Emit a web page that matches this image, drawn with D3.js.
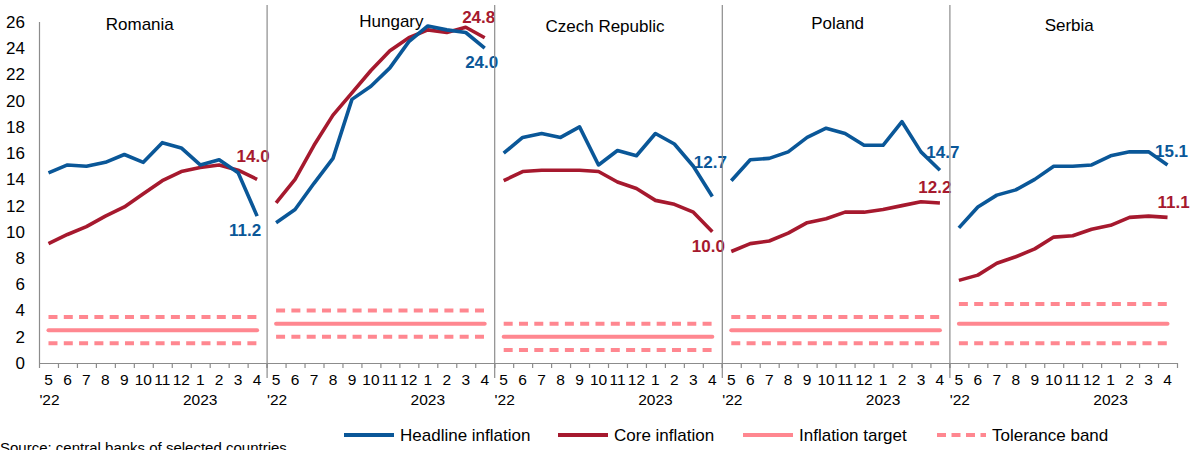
<!DOCTYPE html>
<html>
<head>
<meta charset="utf-8">
<script src="https://cdn.jsdelivr.net/npm/d3@7"></script>
<style>
  html, body { margin: 0; padding: 0; background: #fff; }
  svg { display: block; font-family: "Liberation Sans", Arial, sans-serif; }
</style>
</head>
<body>
<svg id="chart" width="1190" height="450"></svg>
<script>
// ---------- DATA ----------
const countries = ["Romania", "Hungary", "Czech Republic", "Poland", "Serbia"];
const months = ["5", "6", "7", "8", "9", "10", "11", "12", "1", "2", "3", "4"];
const yTicks = [0, 2, 4, 6, 8, 10, 12, 14, 16, 18, 20, 22, 24, 26];

const romaniaHeadline = [14.5, 15.1, 15.0, 15.3, 15.9, 15.3, 16.8, 16.4, 15.1, 15.5, 14.5, 11.2];
const romaniaCore     = [9.1, 9.8, 10.4, 11.2, 11.9, 12.9, 13.9, 14.6, 14.9, 15.1, 14.7, 14.0];
const hungaryHeadline = [10.7, 11.7, 13.7, 15.6, 20.1, 21.1, 22.5, 24.5, 25.7, 25.4, 25.2, 24.0];
const hungaryCore     = [12.2, 14.0, 16.6, 18.9, 20.6, 22.3, 23.8, 24.8, 25.4, 25.2, 25.6, 24.8];
const czechHeadline   = [16.0, 17.2, 17.5, 17.2, 18.0, 15.1, 16.2, 15.8, 17.5, 16.7, 15.0, 12.7];
const czechCore       = [13.9, 14.6, 14.7, 14.7, 14.7, 14.6, 13.8, 13.3, 12.4, 12.1, 11.5, 10.0];
const polandHeadline  = [13.9, 15.5, 15.6, 16.1, 17.2, 17.9, 17.5, 16.6, 16.6, 18.4, 16.1, 14.7];
const polandCore      = [8.5, 9.1, 9.3, 9.9, 10.7, 11.0, 11.5, 11.5, 11.7, 12.0, 12.3, 12.2];
const serbiaHeadline  = [10.3, 11.9, 12.8, 13.2, 14.0, 15.0, 15.0, 15.1, 15.8, 16.1, 16.1, 15.1];
const serbiaCore      = [6.3, 6.7, 7.6, 8.1, 8.7, 9.6, 9.7, 10.2, 10.5, 11.1, 11.2, 11.1];

const targets       = [2.5, 3, 2, 2.5, 3];
const toleranceLow  = [1.5, 2, 1, 1.5, 1.5];
const toleranceHigh = [3.5, 4, 3, 3.5, 4.5];

const headlineSeries = [romaniaHeadline, hungaryHeadline, czechHeadline, polandHeadline, serbiaHeadline];
const coreSeries     = [romaniaCore, hungaryCore, czechCore, polandCore, serbiaCore];

const legendLabels = ["Headline inflation", "Core inflation", "Inflation target", "Tolerance band"];

// ---------- STYLE / LAYOUT ----------
const C_HEAD = "#0a5798";
const C_CORE = "#a6192e";
const C_TGT  = "#ff8790";
const C_AXIS = "#8c8c8c";

// title offsets relative to panel centre (dx, baseline y)
const titleLayout = [[-13, 30], [11, 27], [-3, 32], [2, 29], [6, 31]];
// end-label offsets relative to last point: [dx, dy]
const headLabelOff = [[-12, 20], [-3, 20], [-2, -28], [3, -12], [4, -8]];
const coreLabelOff = [[-4, -17], [-6, -15], [-4, 20], [-5, -10], [6, -9]];

const svg = d3.select("#chart");

const y = d3.scaleLinear().domain([0, 26]).range([363, 22]);
const xPanel = d3.scaleBand().domain(countries).range([39, 1177]);
const xMonth = d3.scaleBand().domain(d3.range(12)).range([0, xPanel.bandwidth()]);
const px = (ci, i) => xPanel(countries[ci]) + xMonth(i) + xMonth.bandwidth() / 2;

// ---------- AXES ----------
const yAxis = d3.axisLeft(y).tickValues(yTicks).tickSize(0).tickPadding(14);
const gy = svg.append("g").attr("transform", "translate(39,0)").call(yAxis);
gy.select(".domain").remove();
gy.selectAll("text").attr("font-size", 17).attr("fill", "#000")
  .style("font-family", "'Liberation Sans', Arial, sans-serif");

// left axis line
svg.append("line").attr("x1", 39.5).attr("x2", 39.5).attr("y1", y(26)).attr("y2", y(0))
  .attr("stroke", C_AXIS).attr("stroke-width", 1.2);
// x baseline
svg.append("line").attr("x1", 39).attr("x2", 1177).attr("y1", y(0) + 0.5).attr("y2", y(0) + 0.5)
  .attr("stroke", C_AXIS).attr("stroke-width", 1.2);

countries.forEach((c, ci) => {
  const x0 = xPanel(c);
  const g = svg.append("g").attr("transform", `translate(${x0},0)`);

  // tick marks at category boundaries
  const bounds = d3.range(13).map(i => i < 12 ? xMonth(i) : xPanel.bandwidth());
  g.selectAll("line.tick").data(bounds).join("line")
    .attr("x1", d => d + 0.5).attr("x2", d => d + 0.5)
    .attr("y1", y(0)).attr("y2", y(0) + 5)
    .attr("stroke", C_AXIS).attr("stroke-width", 1.2);

  // month labels via axis
  const ax = d3.axisBottom(xMonth).tickFormat(i => months[i]).tickSize(0).tickPadding(11);
  const ga = g.append("g").attr("transform", `translate(0,${y(0)})`).call(ax);
  ga.select(".domain").remove();
  ga.selectAll("text").attr("font-size", 15.5).attr("fill", "#000")
    .style("font-family", "'Liberation Sans', Arial, sans-serif");

  // year labels
  g.append("text").attr("x", xMonth(0) + xMonth.bandwidth() / 2 + 1).attr("y", 405)
    .attr("text-anchor", "middle").attr("font-size", 15.5).text("'22");
  g.append("text").attr("x", xMonth(8) + xMonth.bandwidth() / 2).attr("y", 405)
    .attr("text-anchor", "middle").attr("font-size", 15.5).text("2023");

  // separators
  if (ci > 0) {
    svg.append("line").attr("x1", x0 + 0.5).attr("x2", x0 + 0.5).attr("y1", 5).attr("y2", 378)
      .attr("stroke", C_AXIS).attr("stroke-width", 1.2);
  }

  // title
  svg.append("text").attr("x", x0 + xPanel.bandwidth() / 2 + titleLayout[ci][0]).attr("y", titleLayout[ci][1])
    .attr("text-anchor", "middle").attr("font-size", 17).attr("fill", "#000").text(c);

  // target and tolerance band
  const xa = px(ci, 0), xb = px(ci, 11);
  svg.append("line").attr("x1", xa).attr("x2", xb).attr("y1", y(targets[ci])).attr("y2", y(targets[ci]))
    .attr("stroke", C_TGT).attr("stroke-width", 4).attr("stroke-linecap", "round");
  [toleranceLow[ci], toleranceHigh[ci]].forEach(v => {
    svg.append("line").attr("x1", xa).attr("x2", xb + 2).attr("y1", y(v)).attr("y2", y(v))
      .attr("stroke", C_TGT).attr("stroke-width", 4).attr("stroke-dasharray", "9,6.3");
  });

  const line = d3.line().x((d, i) => px(ci, i)).y(d => y(d));
  svg.append("path").datum(coreSeries[ci]).attr("d", line)
    .attr("fill", "none").attr("stroke", C_CORE).attr("stroke-width", 3.6).attr("stroke-linejoin", "round");
  svg.append("path").datum(headlineSeries[ci]).attr("d", line)
    .attr("fill", "none").attr("stroke", C_HEAD).attr("stroke-width", 3.6).attr("stroke-linejoin", "round");

  // end labels
  const hv = headlineSeries[ci][11], cv = coreSeries[ci][11];
  svg.append("text").attr("x", px(ci, 11) + headLabelOff[ci][0]).attr("y", y(hv) + headLabelOff[ci][1])
    .attr("text-anchor", "middle").attr("font-size", 17).attr("font-weight", "bold").attr("fill", C_HEAD)
    .text(hv.toFixed(1));
  svg.append("text").attr("x", px(ci, 11) + coreLabelOff[ci][0]).attr("y", y(cv) + coreLabelOff[ci][1])
    .attr("text-anchor", "middle").attr("font-size", 17).attr("font-weight", "bold").attr("fill", C_CORE)
    .text(cv.toFixed(1));
});

// ---------- LEGEND ----------
const legendX = [344, 558, 743, 936];
const legendG = svg.append("g");
legendLabels.forEach((lab, i) => {
  const lx = legendX[i];
  const color = i === 0 ? C_HEAD : i === 1 ? C_CORE : C_TGT;
  const ln = legendG.append("line").attr("x1", lx).attr("x2", lx + 50).attr("y1", 435).attr("y2", 435)
    .attr("stroke", color).attr("stroke-width", 4);
  if (i === 3) ln.attr("stroke-dasharray", "9,5.5").attr("x1", lx + 1);
  legendG.append("text").attr("x", lx + 56).attr("y", 441).attr("font-size", 17).attr("fill", "#000").text(lab);
});

// source
svg.append("text").attr("x", 0).attr("y", 453).attr("font-size", 15).attr("fill", "#000")
  .text("Source: central banks of selected countries");
</script>
</body>
</html>
